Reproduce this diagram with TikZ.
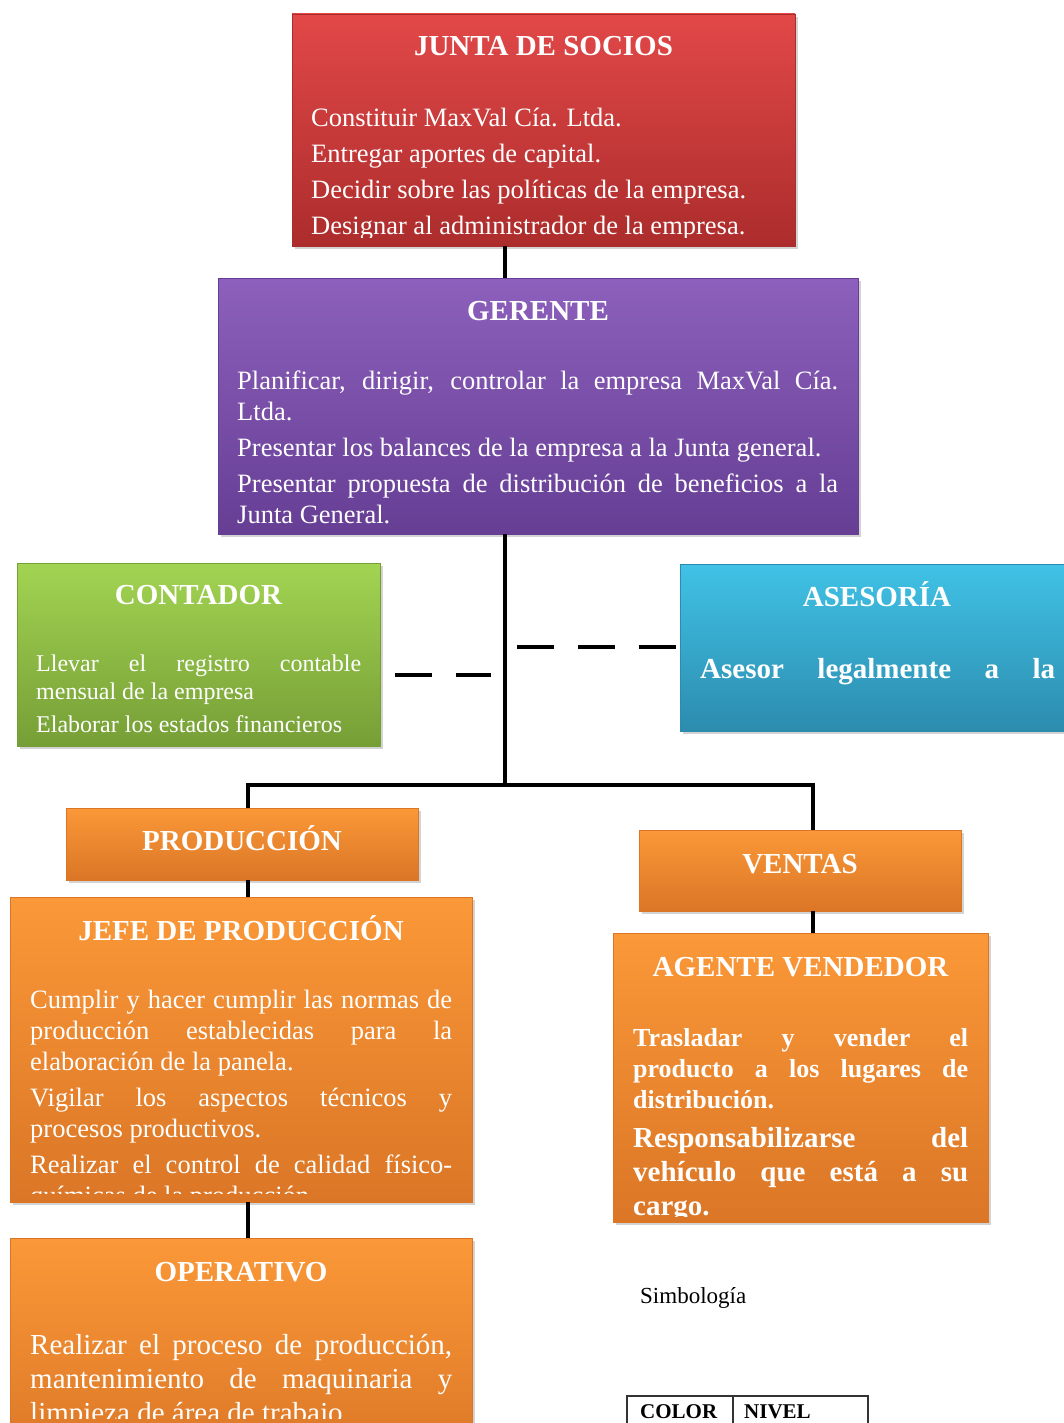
\documentclass[tikz,border=0pt]{standalone}
\usepackage{fontspec}
\setmainfont{Liberation Serif}
\usetikzlibrary{shadows}

\definecolor{rojoA}{RGB}{226,72,72}
\definecolor{rojoB}{RGB}{172,44,44}
\definecolor{moradoA}{RGB}{140,96,188}
\definecolor{moradoB}{RGB}{102,62,148}
\definecolor{verdeA}{RGB}{162,212,82}
\definecolor{verdeB}{RGB}{118,158,54}
\definecolor{celesteA}{RGB}{64,194,230}
\definecolor{celesteB}{RGB}{44,140,174}
\definecolor{naranjaA}{RGB}{251,152,56}
\definecolor{naranjaB}{RGB}{218,118,38}

% bloque de texto justificado: ancho, cuerpo, interlinea, texto
\newcommand{\parrafos}[4]{\begin{minipage}[t]{#1}\fontsize{#2}{#3}\selectfont
  \setlength{\parskip}{5pt}\hyphenpenalty=10000 #4\end{minipage}}

\tikzset{
  caja/.style={rectangle, inner sep=0pt, line width=0.8pt,
    drop shadow={shadow xshift=3pt, shadow yshift=-3pt, opacity=0.35}},
  rojo/.style={caja, draw=rojoB, top color=rojoA, bottom color=rojoB},
  morado/.style={caja, draw=moradoB, top color=moradoA, bottom color=moradoB},
  verde/.style={caja, draw=verdeB, top color=verdeA, bottom color=verdeB},
  celeste/.style={caja, draw=celesteB, top color=celesteA, bottom color=celesteB},
  naranja/.style={caja, draw=naranjaB, top color=naranjaA, bottom color=naranjaB},
  titulo/.style={anchor=base, inner sep=0pt, text=white,
    font=\fontsize{29}{34}\selectfont\bfseries},
  cuerpo/.style={anchor=base west, inner sep=0pt, text=white},
  linea/.style={line width=4pt, black},
  guion/.style={line width=4.5pt, black, dash pattern=on 37pt off 24pt},
}

\begin{document}
\begin{tikzpicture}[x=1pt,y=-1pt]
\useasboundingbox (0,0) rectangle (1063,1423);

% cajas
\node[rojo, minimum width=503pt, minimum height=232pt] (junta) at (543.5,130) {};
\node[morado, minimum width=640pt, minimum height=256pt] (gerente) at (538,406) {};
\node[verde, minimum width=363pt, minimum height=183pt] (contador) at (198.5,654.5) {};
\node[celeste, minimum width=394pt, minimum height=167pt] (asesoria) at (877,647.5) {};
\node[naranja, minimum width=352pt, minimum height=72pt] (produccion) at (242,844) {};
\node[naranja, minimum width=462pt, minimum height=305pt] (jefe) at (241,1049.5) {};
\node[naranja, minimum width=462pt, minimum height=232pt] (operativo) at (241,1354) {};
\node[naranja, minimum width=322pt, minimum height=81pt] (ventas) at (800,870.5) {};
\node[naranja, minimum width=375pt, minimum height=289pt] (agente) at (800.5,1077.5) {};

% conectores
\coordinate (eje) at (505,0);
\coordinate (rama) at (505,785);
\coordinate (ejeP) at (248,0);
\coordinate (ejeV) at (813,0);
\draw[linea] (junta.south -| eje) -- (gerente.north -| eje);
\draw[linea] (gerente.south -| eje) -- (rama);
\draw[linea] (produccion.north -| ejeP) |- (rama) -| (ventas.north -| ejeV);
\draw[linea] (produccion.south -| ejeP) -- (jefe.north -| ejeP);
\draw[linea] (jefe.south -| ejeP) -- (operativo.north -| ejeP);
\draw[linea] (ventas.south -| ejeV) -- (agente.north -| ejeV);

% lineas de asesoria
\coordinate (dc1) at (395,675);
\coordinate (dc2) at (491,675);
\coordinate (da1) at (517,647);
\draw[guion] (dc1) -- (dc2);
\draw[guion] (da1) -- (da1 -| asesoria.west);

% titulos
\node[titulo] (tjunta) at (junta.north |- 0,56) {JUNTA DE SOCIOS};
\node[titulo] (tgerente) at (gerente.north |- 0,320) {GERENTE};
\node[titulo] (tcontador) at (contador.north |- 0,604) {CONTADOR};
\node[titulo] (tasesoria) at (asesoria.north |- 0,606) {ASESORÍA};
\node[titulo] (tproduccion) at (produccion.north |- 0,850) {PRODUCCIÓN};
\node[titulo] (tjefe) at (jefe.north |- 0,940) {JEFE DE PRODUCCIÓN};
\node[titulo] (toperativo) at (operativo.north |- 0,1281) {OPERATIVO};
\node[titulo] (tventas) at (ventas.north |- 0,873) {VENTAS};
\node[titulo] (tagente) at (agente.north |- 0,976) {AGENTE VENDEDOR};

% funciones
\begin{scope}
  \clip (junta.north west) rectangle ([yshift=9pt]junta.south east);
  \node[cuerpo] (cjunta) at (311,127) {\parrafos{465pt}{26.5}{31}{%
    Constituir MaxVal Cía. Ltda.\par
    Entregar aportes de capital.\par
    Decidir sobre las políticas de la empresa.\par
    Designar al administrador de la empresa.}};
\end{scope}

\node[cuerpo] (cgerente) at (237,389) {\parrafos{601pt}{26.5}{31}{%
  Planificar, dirigir, controlar la empresa MaxVal Cía.\linebreak Ltda.\par
  Presentar los balances de la empresa a la Junta general.\par
  Presentar propuesta de distribución de beneficios a la\linebreak Junta General.}};

\node[cuerpo] (ccontador) at (36,671) {\parrafos{325pt}{24}{28}{%
  Llevar el registro contable\linebreak mensual de la empresa\par
  Elaborar los estados financieros}};

\node[cuerpo, font=\bfseries] (casesoria) at (700,678)
  {\fontsize{29}{34}\selectfont\makebox[355pt][s]{Asesor legalmente a la}};

\begin{scope}
  \clip (jefe.north west) rectangle ([yshift=9pt]jefe.south east);
  \node[cuerpo] (cjefe) at (30,1008) {\parrafos{422pt}{26.5}{31}{%
    Cumplir y hacer cumplir las normas de\linebreak producción establecidas para la\linebreak elaboración de la panela.\par
    Vigilar los aspectos técnicos y\linebreak procesos productivos.\par
    Realizar el control de calidad físico-\linebreak químicas de la producción.}};
\end{scope}

\begin{scope}
  \clip (operativo.north west) rectangle (472,1418);
  \node[cuerpo] (coperativo) at (30,1354) {\parrafos{422pt}{29}{34}{%
    Realizar el proceso de producción,\linebreak mantenimiento de maquinaria y\linebreak limpieza de área de trabajo.}};
\end{scope}

\begin{scope}
  \clip (agente.north west) rectangle ([yshift=6pt]agente.south east);
  \node[cuerpo] (cagente) at (633,1046) {\parrafos{335pt}{26}{31}{\bfseries
    Trasladar y vender el\linebreak producto a los lugares de\linebreak distribución.\par
    \fontsize{29}{34}\selectfont Responsabilizarse del\linebreak vehículo que está a su\linebreak cargo.}};
\end{scope}

% simbologia
\node[anchor=base west, inner sep=0pt, font=\fontsize{23}{23}\selectfont] (simb) at (640,1303) {Simbología};
\draw[line width=1.3pt, black!80] (627,1430) |- (868,1396) -- (868,1430);
\draw[line width=1.3pt, black!80] (733,1396) -- (733,1430);
\node[anchor=base west, inner sep=0pt, font=\fontsize{21}{21}\selectfont\bfseries] (color) at (640,1418) {COLOR};
\node[anchor=base west, inner sep=0pt, font=\fontsize{21}{21}\selectfont\bfseries] (nivel) at (744,1418) {NIVEL};
\end{tikzpicture}
\end{document}
